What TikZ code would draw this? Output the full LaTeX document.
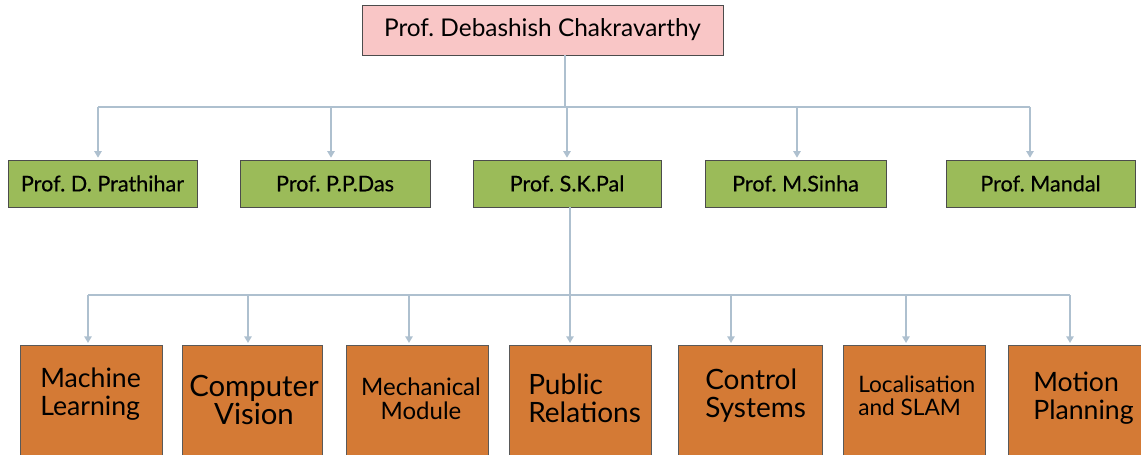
\documentclass[tikz,border=0pt]{standalone}
\usepackage{fontspec}
\setmainfont{Lato}
\newfontfamily\proffont{Lato}[FakeBold=0.35]
\usetikzlibrary{arrows.meta, calc, positioning, shadows}
\definecolor{headpink}{HTML}{F9C6C6}
\definecolor{profgreen}{HTML}{9BBB59}
\definecolor{teamorange}{HTML}{D47A35}
\definecolor{linkblue}{HTML}{AEC0CF}
\frenchspacing

\begin{document}
\begin{tikzpicture}[x=0.75pt, y=-0.75pt,% styles used in image code
      > = {Triangle[length=5pt, width=5.5pt]},
  head/.style = {draw=black!70, fill=headpink, thin,
                 minimum width=270.75pt, minimum height=37.5pt,
                 inner sep=0pt, font=\fontsize{18.3}{21}\selectfont,
                 drop shadow={shadow xshift=1pt, shadow yshift=-1pt, opacity=0.3}},
  prof/.style = {draw=black!70, fill=profgreen, thin,
                 minimum width=141.75pt, minimum height=35.25pt,
                 inner sep=0pt, font=\proffont\fontsize{16.2}{17}\selectfont,
                 drop shadow={shadow xshift=1pt, shadow yshift=-1pt, opacity=0.3}},
  team/.style = {draw=black!65, fill=teamorange, thin, anchor=north,
                 minimum width=106.5pt, minimum height=105pt, inner sep=0pt,
                 drop shadow={shadow xshift=1pt, shadow yshift=-1pt, opacity=0.3}},
  teamtext/.style = {inner sep=0pt, anchor=#1},
  teamtext/.default = center,
  link/.style = {draw=linkblue, line width=2.2pt},
 arrow/.style = {link, ->, shorten >=1.5pt}
                    ]
\useasboundingbox (0,0) rectangle (1141,454);
\clip (0,0) rectangle (1141,454);
	% head of the group
	\node (head) [head] at (542.5,30) {Prof. Debashish Chakravarthy};

	% professors
	\node (g1) [prof] at (102.5,183.5) {Prof. D. Prathihar};
	\node (g2) [prof, minimum width=142.5pt] at (335,183.5) {Prof. P.P.Das};
	\node (g3) [prof, minimum width=141pt] at (567,183.5) {Prof. S.K.Pal};
	\node (g4) [prof, minimum width=135.75pt] at (795.5,183.5) {Prof. M.Sinha};
	\node (g5) [prof] at (1040.5,183.5) {Prof. Mandal};

	% teams
	\node (o1) [team] at (91,345) {};
	\node (o2) [team, minimum width=105pt] at (252,345) {};
	\node (o3) [team] at (417,345) {};
	\node (o4) [team] at (580,345) {};
	\node (o5) [team, minimum width=108pt] at (750,345) {};
	\node (o6) [team] at (914,345) {};
	\node (o7) [team] at (1079,345) {};

	\node (t1) [teamtext=west, align=left, font=\fontsize{20}{21}\selectfont]
	      at (40,394) {Machine\\Learning};
	\node (t2) [teamtext, align=center, font=\fontsize{22}{21}\selectfont]
	      at (254,400) {Computer\\Vision};
	\node (t3) [teamtext, align=center, font=\fontsize{18}{18}\selectfont]
	      at (421,399) {Mechanical\\Module};
	\node (t4) [teamtext=west, align=left, font=\fontsize{21}{21}\selectfont]
	      at (528,398) {Public\\Relations};
	\node (t5) [teamtext=west, align=left, font=\fontsize{21}{21}\selectfont]
	      at (705,396) {Control\\Systems};
	\node (t6) [teamtext=west, align=left, font=\fontsize{17}{17}\selectfont]
	      at (858,396) {Localisation\\and SLAM};
	\node (t7) [teamtext=west, align=left, font=\fontsize{20}{21}\selectfont]
	      at (1033,398) {Motion\\Planning};

	% first bus
	\coordinate (j1) at (565,107);
	\coordinate (d1) at (98,107);
	\coordinate (d2) at (331,107);
	\coordinate (d3) at (567,107);
	\coordinate (d4) at (797,107);
	\coordinate (d5) at (1030,107);
	\draw[link] (head.south -| j1) -- (j1);
	\draw[link] (d1) -- (d5);
	\foreach \i in {1,...,5}
	    \draw[arrow] (d\i) -- (d\i |- g\i.north);

	% second bus
	\coordinate (j2) at (570,295);
	\coordinate (e1) at (88,295);
	\coordinate (e2) at (248,295);
	\coordinate (e3) at (409,295);
	\coordinate (e4) at (570,295);
	\coordinate (e5) at (731,295);
	\coordinate (e6) at (906,295);
	\coordinate (e7) at (1070,295);
	\draw[link] (g3.south -| j2) -- (j2);
	\draw[link] (e1) -- (e7);
	\foreach \i in {1,...,7}
	    \draw[arrow] (e\i) -- (e\i |- o\i.north);
\end{tikzpicture}
\end{document}
